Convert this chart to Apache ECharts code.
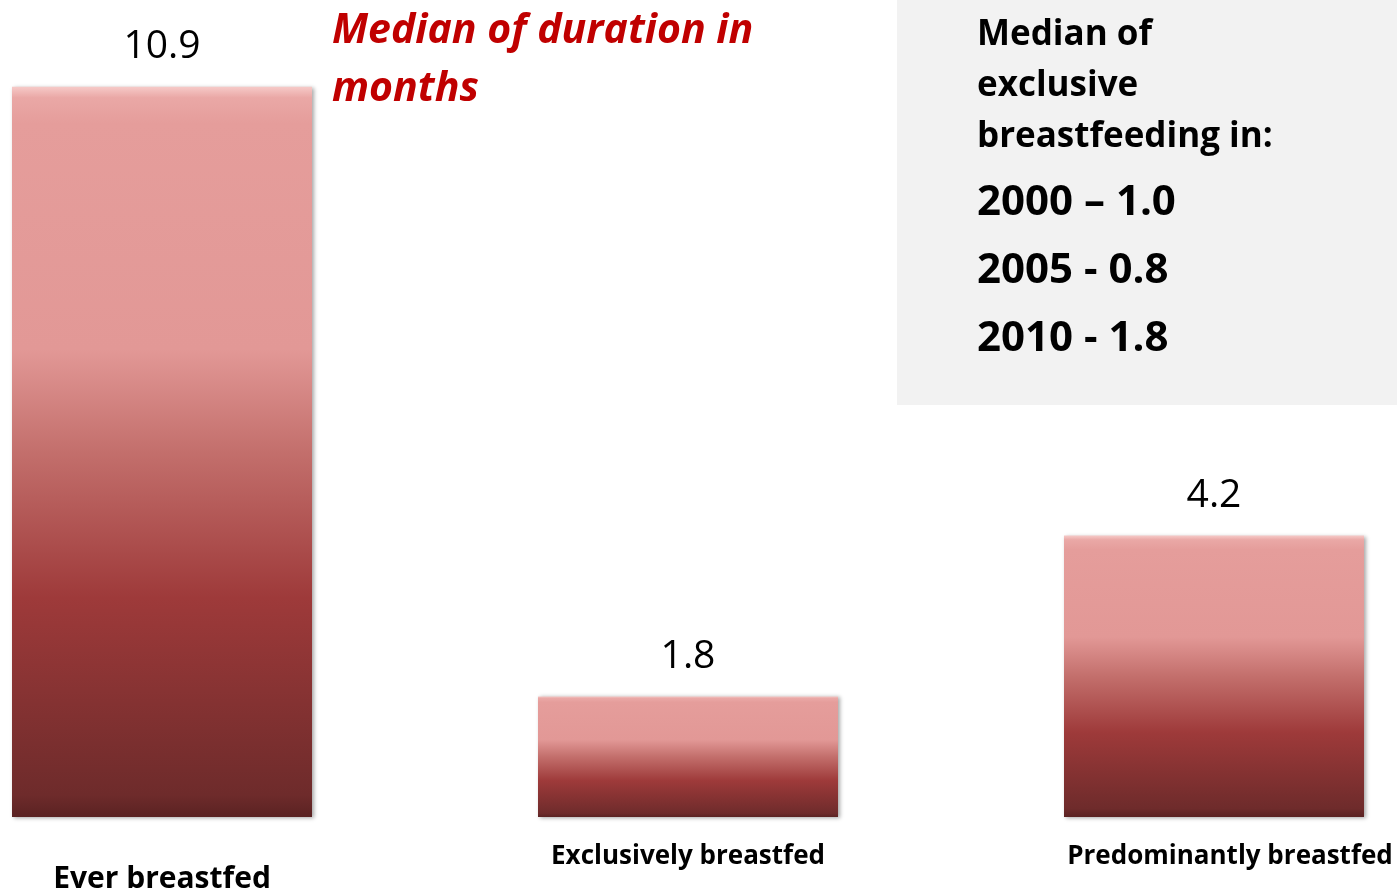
<!DOCTYPE html>
<html>
<head>
<meta charset="utf-8">
<script src="https://cdn.jsdelivr.net/npm/echarts@6/dist/echarts.min.js"></script>
<style>
  html, body { margin: 0; padding: 0; background: #ffffff; }
  #chart { width: 1397px; height: 892px; }
</style>
</head>
<body>
<div id="chart"></div>
<script>
const categories = ["Ever breastfed", "Exclusively breastfed", "Predominantly breastfed"]
const durations = [10.9, 1.8, 4.2]
const titleLines = ["Median of duration in", "months"]
const noteLines = ["Median of", "exclusive", "breastfeeding in:"]
const noteYears = ["2000 – 1.0", "2005 - 0.8", "2010 - 1.8"]

const FONT = "'Open Sans'"

const barColor = {
  type: "linear", x: 0, y: 0, x2: 0, y2: 1,
  colorStops: [
    {offset: 0, color: "#f6cac8"},
    {offset: 0.015, color: "#eaa8a6"},
    {offset: 0.05, color: "#e59d9b"},
    {offset: 0.36, color: "#e29896"},
    {offset: 0.5, color: "#c36f6c"},
    {offset: 0.7, color: "#9e3a3a"},
    {offset: 0.97, color: "#6e2b2b"},
    {offset: 1, color: "#5a2222"},
  ],
}

const labelRich = {
  big: {fontFamily: FONT, fontWeight: "bold", fontSize: 30, color: "#000", padding: [20, 0, 0, 0]},
  mid: {fontFamily: FONT, fontWeight: "bold", fontSize: 26, color: "#000"},
  right: {fontFamily: FONT, fontWeight: "bold", fontSize: 26, color: "#000", padding: [0, 0, 0, 32]},
}

const chart = echarts.init(document.getElementById("chart"))

chart.setOption({
  backgroundColor: "#ffffff",
  animation: false,
  grid: {
    left: 162,
    right: 183,
    top: 13,
    bottom: 75,
    containLabel: false,
    outerBoundsMode: "none",
  },
  xAxis: {
    type: "category",
    data: categories,
    boundaryGap: false,
    axisLine: {show: false},
    axisTick: {show: false},
    splitLine: {show: false},
    axisLabel: {
      interval: 0,
      margin: 27,
      formatter: (v, i) => {
        const key = i === 0 ? "big" : (i === 1 ? "mid" : "right")
        return "{" + key + "|" + v + "}"
      },
      rich: labelRich,
    },
  },
  yAxis: {
    type: "value",
    min: 0,
    max: 12,
    show: false,
    splitLine: {show: false},
  },
  graphic: [
    {
      type: "rect",
      left: 897, top: 0,
      shape: {width: 500, height: 405},
      style: {fill: "#f2f2f2"},
      z: -10,
    },
    {
      type: "text",
      left: 332, top: 2,
      style: {
        text: titleLines.join("\n"),
        fontFamily: FONT, fontWeight: "bold", fontStyle: "italic",
        fontSize: 41, lineHeight: 58, fill: "#c00000",
      },
    },
    {
      type: "text",
      left: 977, top: 10,
      style: {
        text: noteLines.join("\n"),
        fontFamily: FONT, fontWeight: "bold",
        fontSize: 35, lineHeight: 51, fill: "#000",
      },
    },
    {
      type: "text",
      left: 977, top: 169,
      style: {
        text: noteYears.join("\n"),
        fontFamily: FONT, fontWeight: "bold",
        fontSize: 42, lineHeight: 68, fill: "#000",
      },
    },
  ],
  series: [
    {
      type: "bar",
      data: durations,
      barWidth: 300,
      itemStyle: {
        color: barColor,
        shadowBlur: 4,
        shadowColor: "rgba(0,0,0,0.35)",
        shadowOffsetX: 2,
        shadowOffsetY: 1,
      },
      label: {
        show: true,
        position: "top",
        distance: 20,
        fontFamily: FONT,
        fontSize: 39,
        color: "#000",
      },
    },
  ],
})
</script>
</body>
</html>
